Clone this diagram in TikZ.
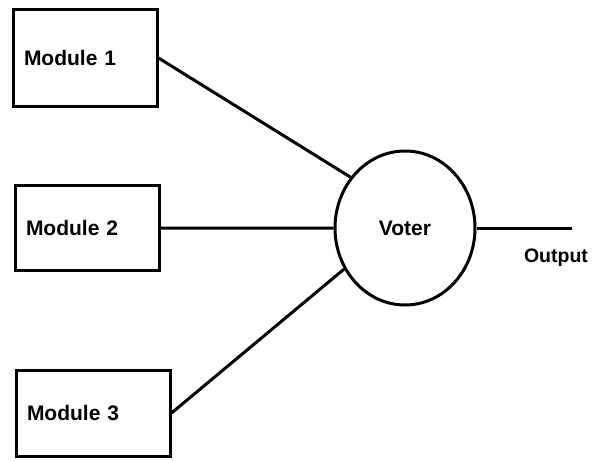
\documentclass[tikz,border=0pt]{standalone}
\usepackage{fontspec}
\setmainfont{Liberation Sans}
\usetikzlibrary{shapes.geometric}

\begin{document}
\begin{tikzpicture}[x=1pt,y=-1pt,line width=3pt,
    modbox/.style={draw,rectangle,inner xsep=11pt,inner ysep=0pt,align=left,
      font=\fontsize{21}{25}\selectfont\bfseries},
    votebox/.style={draw,ellipse,inner sep=0pt,minimum width=140pt,minimum height=154pt,
      font=\fontsize{21}{25}\selectfont\bfseries}]
      \useasboundingbox(0,0) rectangle (593,460);
      \node[modbox,text width=122pt,minimum height=96pt](mod1) at (85,58) {Module 1};
      \node[modbox,text width=122pt,minimum height=85pt](mod2) at (87,228) {Module 2};
      \node[modbox,text width=132pt,minimum height=86pt](mod3) at (93,413) {Module 3};
      \node[votebox](voter) at (405,228) {Voter};
      \coordinate(out) at (572,228);
      \node[font=\fontsize{19.5}{24}\selectfont\bfseries](outlabel) at (556,258) {Output};
      \draw(mod1.east)--(voter.137) (mod2.east)--(voter.west) (mod3.east)--(voter.214);
      \draw(voter.east)--(out);
    \end{tikzpicture}
\end{document}
